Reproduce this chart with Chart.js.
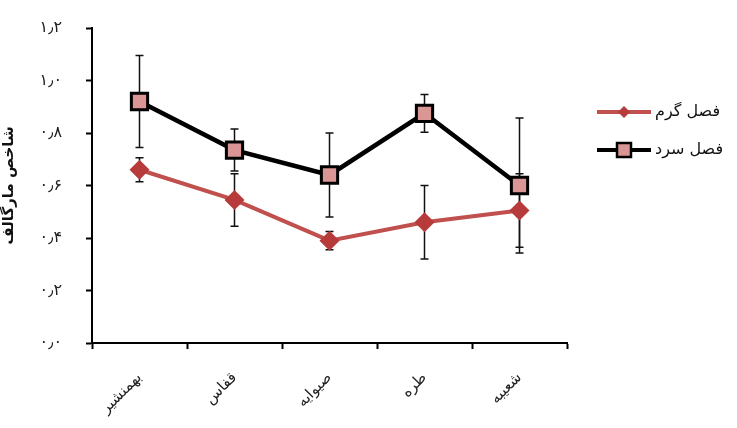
<!DOCTYPE html>
<html>
<head>
<meta charset="utf-8">
<script src="https://cdn.jsdelivr.net/npm/chart.js@4"></script>
<style>
  html, body { margin: 0; padding: 0; background: #fff; }
  #wrap { width: 737px; height: 428px; }
</style>
</head>
<body>
<div id="wrap"><canvas id="chart"></canvas></div>
<script>
const stations = ['بهمنشیر', 'قفاس', 'صیوایه', 'طره', 'شعیبه'];
const warmValues = [0.66, 0.545, 0.39, 0.46, 0.505];
const warmErrors = [0.046, 0.10, 0.035, 0.14, 0.14];
const coldValues = [0.92, 0.735, 0.64, 0.875, 0.60];
const coldErrors = [0.175, 0.08, 0.16, 0.072, 0.257];
const seriesNames = ['فصل گرم', 'فصل سرد'];
const yTitle = 'شاخص مارگالف';

const faDigits = '۰۱۲۳۴۵۶۷۸۹';
function toPersian(v) {
  return v.toFixed(1).replace(/[0-9]/g, d => faDigits[+d]).replace('.', '٫');
}

const FONT = '"DejaVu Sans", sans-serif';
const RED = '#c0504d';
const RED_DARK = '#b83b3b';
const PINK = '#d99694';

// error bars, drawn under the markers
const errorBars = {
  id: 'errorBars',
  beforeDatasetsDraw(chart) {
    const ctx = chart.ctx;
    const y = chart.scales.y;
    ctx.save();
    ctx.strokeStyle = '#111';
    ctx.lineWidth = 1.5;
    chart.data.datasets.forEach((ds, i) => {
      const meta = chart.getDatasetMeta(i);
      meta.data.forEach((pt, j) => {
        const v = ds.data[j], e = ds.errors[j];
        const top = y.getPixelForValue(v + e), bot = y.getPixelForValue(v - e);
        ctx.beginPath();
        ctx.moveTo(pt.x, top); ctx.lineTo(pt.x, bot);
        ctx.moveTo(pt.x - 4, top); ctx.lineTo(pt.x + 4, top);
        ctx.moveTo(pt.x - 4, bot); ctx.lineTo(pt.x + 4, bot);
        ctx.stroke();
      });
    });
    ctx.restore();
  }
};

// legend on the right: line + marker, then text
const sideLegend = {
  id: 'sideLegend',
  afterDraw(chart) {
    const ctx = chart.ctx;
    const x0 = 597, x1 = 651, xm = 624;
    ctx.save();
    ctx.font = '16px ' + FONT;
    ctx.textBaseline = 'middle';
    ctx.fillStyle = '#111';

    let yy = 112;
    ctx.strokeStyle = RED; ctx.lineWidth = 4;
    ctx.beginPath(); ctx.moveTo(x0, yy); ctx.lineTo(x1, yy); ctx.stroke();
    ctx.fillStyle = RED_DARK;
    ctx.beginPath();
    ctx.moveTo(xm, yy - 6); ctx.lineTo(xm + 6, yy); ctx.lineTo(xm, yy + 6); ctx.lineTo(xm - 6, yy);
    ctx.closePath(); ctx.fill();
    ctx.fillStyle = '#111';
    ctx.fillText(seriesNames[0], 655, yy);

    yy = 150;
    ctx.strokeStyle = '#000'; ctx.lineWidth = 4;
    ctx.beginPath(); ctx.moveTo(x0, yy); ctx.lineTo(x1, yy); ctx.stroke();
    ctx.fillStyle = PINK; ctx.lineWidth = 2.5;
    ctx.fillRect(xm - 7, yy - 7, 14, 14);
    ctx.strokeRect(xm - 7, yy - 7, 14, 14);
    ctx.fillStyle = '#111';
    ctx.fillText(seriesNames[1], 655, yy);
    ctx.restore();
  }
};

new Chart(document.getElementById('chart'), {
  type: 'line',
  data: {
    labels: stations,
    datasets: [
      {
        label: seriesNames[0],
        data: warmValues,
        errors: warmErrors,
        borderColor: RED,
        borderWidth: 4,
        backgroundColor: RED_DARK,
        pointStyle: 'rectRot',
        pointRadius: 10,
        pointBorderWidth: 0,
        pointBackgroundColor: RED_DARK,
        tension: 0,
        order: 2
      },
      {
        label: seriesNames[1],
        data: coldValues,
        errors: coldErrors,
        borderColor: '#000',
        borderWidth: 4.5,
        backgroundColor: PINK,
        pointStyle: 'rect',
        pointRadius: 11.5,
        pointBorderWidth: 3,
        pointBorderColor: '#000',
        pointBackgroundColor: PINK,
        tension: 0,
        order: 1
      }
    ]
  },
  options: {
    responsive: true,
    maintainAspectRatio: false,
    animation: false,
    layout: { padding: { left: 0, right: 170, top: 28, bottom: 0 } },
    plugins: {
      legend: { display: false },
      tooltip: { enabled: false }
    },
    scales: {
      x: {
        offset: true,
        grid: { offset: true, drawOnChartArea: false, color: '#000', tickLength: 6, tickWidth: 2 },
        border: { color: '#000', width: 2 },
        ticks: {
          color: '#222',
          font: { family: FONT, size: 15 },
          minRotation: 45,
          maxRotation: 45,
          padding: 20
        },
        afterFit(scale) { scale.height = 85; }
      },
      y: {
        min: 0,
        max: 1.2,
        grid: { drawOnChartArea: false, color: '#000', tickLength: 6, tickWidth: 2 },
        border: { color: '#000', width: 2 },
        ticks: {
          stepSize: 0.2,
          color: '#222',
          font: { family: FONT, size: 16 },
          padding: 24,
          callback: v => toPersian(v)
        },
        title: {
          display: true,
          text: yTitle,
          color: '#111',
          font: { family: FONT, size: 15, weight: 'bold' },
          padding: 0
        },
        afterFit(scale) {
          scale.width = 92;
          scale.paddingTop = 8;
          scale.paddingBottom = 8;
        }
      }
    }
  },
  plugins: [errorBars, sideLegend]
});
</script>
</body>
</html>
